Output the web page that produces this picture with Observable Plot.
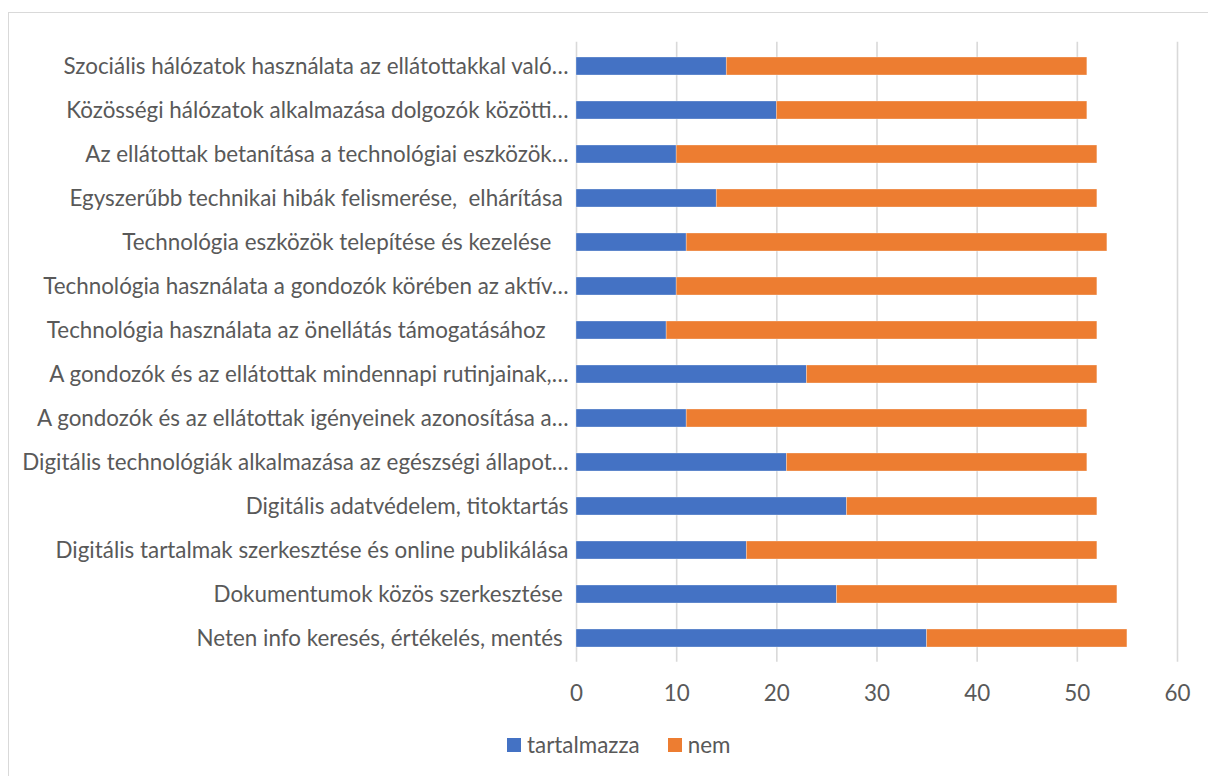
<!DOCTYPE html>
<html>
<head>
<meta charset="utf-8">
<script src="https://cdn.jsdelivr.net/npm/d3@7"></script>
<script src="https://cdn.jsdelivr.net/npm/@observablehq/plot@0.6"></script>
<style>
  html, body { margin: 0; padding: 0; background: #fff; }
  #wrap { position: relative; width: 1208px; height: 776px; overflow: hidden; font-family: Lato, "Open Sans", sans-serif; }
  #frame { position: absolute; left: 8px; top: 12px; width: 1300px; height: 900px; border-top: 1.5px solid #d9d9d9; border-left: 1.5px solid #d9d9d9; }
  #chart { position: absolute; left: 0; top: 0; }
  #chart svg text { white-space: pre; }
  #legend { position: absolute; top: 731px; left: 507px; display: flex; align-items: center; font-size: 22.4px; color: #595959; }
  .sw { width: 14px; height: 14px; display: inline-block; margin-right: 6px; }
  .item { display: flex; align-items: center; margin-right: 28px; }
</style>
</head>
<body>
<div id="wrap">
  <div id="frame"></div>
  <div id="chart"></div>
  <div id="legend"></div>
</div>
<script>
const categories = [
  "Szociális hálózatok használata az ellátottakkal való…",
  "Közösségi hálózatok alkalmazása dolgozók közötti…",
  "Az ellátottak betanítása a technológiai eszközök…",
  "Egyszerűbb technikai hibák felismerése,  elhárítása ",
  "Technológia eszközök telepítése és kezelése   ",
  "Technológia használata a gondozók körében az aktív…",
  "Technológia használata az önellátás támogatásához    ",
  "A gondozók és az ellátottak mindennapi rutinjainak,…",
  "A gondozók és az ellátottak igényeinek azonosítása a…",
  "Digitális technológiák alkalmazása az egészségi állapot…",
  "Digitális adatvédelem, titoktartás",
  "Digitális tartalmak szerkesztése és online publikálása",
  "Dokumentumok közös szerkesztése ",
  "Neten info keresés, értékelés, mentés "
];
const seriesNames = ["tartalmazza", "nem"];
const tartalmazza = [15, 20, 10, 14, 11, 10, 9, 23, 11, 21, 27, 17, 26, 35];
const nem = [36, 31, 42, 38, 42, 42, 43, 29, 40, 30, 25, 35, 28, 20];
const xTicks = [0, 10, 20, 30, 40, 50, 60];
const colors = ["#4472C4", "#ED7D31"];

const rows = [];
categories.forEach((c, i) => {
  rows.push({cat: c, series: seriesNames[0], value: tartalmazza[i]});
  rows.push({cat: c, series: seriesNames[1], value: nem[i]});
});

const plot = Plot.plot({
  width: 1208,
  height: 720,
  marginLeft: 576,
  marginRight: 31,
  marginTop: 41.7,
  marginBottom: 58.3,
  style: {fontFamily: "Lato, 'Open Sans', sans-serif", fontSize: "22.4px", color: "#595959", background: "transparent", overflow: "visible"},
  x: {domain: [0, 60], ticks: xTicks, label: null},
  y: {domain: categories, paddingInner: 0.6, paddingOuter: 0.3, label: null},
  color: {domain: seriesNames, range: colors},
  marks: [
    Plot.gridX(xTicks, {stroke: "#d9d9d9", strokeOpacity: 1, strokeWidth: 1.6}),
    Plot.barX(rows, Plot.stackX({x: "value", y: "cat", fill: "series", stroke: "#fff", strokeOpacity: 0.5, strokeWidth: 0.6, inset: 0})),
    Plot.axisX(xTicks, {tickSize: 0, tickPadding: 23, fontSize: 22.4, fill: "#595959", label: null}),
    Plot.axisY({tickSize: 0, tickPadding: 8, fontSize: 22.4, fill: "#595959", label: null, textAnchor: "end"})
  ]
});
document.getElementById("chart").appendChild(plot);

const legend = document.getElementById("legend");
seriesNames.forEach((s, i) => {
  const it = document.createElement("span");
  it.className = "item";
  const sw = document.createElement("span");
  sw.className = "sw";
  sw.style.background = colors[i];
  it.appendChild(sw);
  it.appendChild(document.createTextNode(s));
  legend.appendChild(it);
});
</script>
</body>
</html>
